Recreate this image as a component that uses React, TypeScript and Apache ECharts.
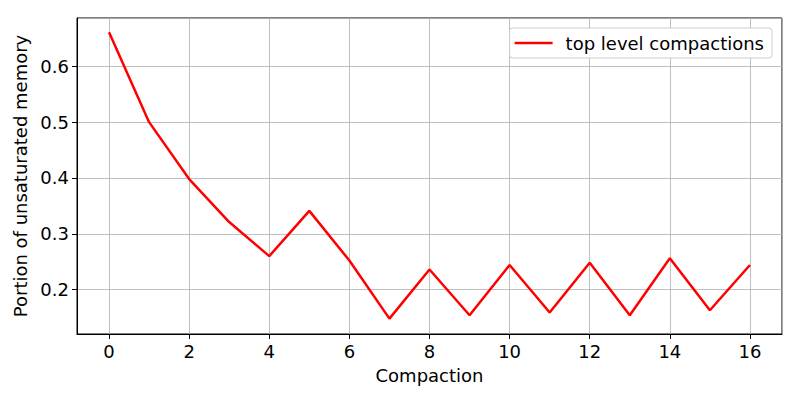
import React, { useEffect, useRef } from "react";
import * as echarts from "echarts";

const compactions = [0, 1, 2, 3, 4, 5, 6, 7, 8, 9, 10, 11, 12, 13, 14, 15, 16];
const portion = [0.661, 0.5, 0.398, 0.321, 0.26, 0.341, 0.252, 0.148, 0.236, 0.154, 0.244, 0.159, 0.248, 0.154, 0.256, 0.163, 0.244];
const seriesName = "top level compactions";

export default function App() {
  const ref = useRef<HTMLDivElement>(null);
  useEffect(() => {
    if (!ref.current) return;
    const chart = echarts.init(ref.current, null, { renderer: "svg" });
    const font = "DejaVu Sans";
    const fs = 18;
    chart.setOption({
      animation: false,
      textStyle: { fontFamily: font },
      grid: { left: 77, right: 18, top: 18, bottom: 66, show: true, borderColor: "#000", borderWidth: 1, backgroundColor: "transparent" },
      legend: {
        top: 28,
        right: 28,
        data: [seriesName],
        itemWidth: 38,
        itemHeight: 2.5,
        itemGap: 10,
        padding: [6, 8, 6, 5],
        borderColor: "#cccccc",
        borderWidth: 1,
        borderRadius: 3,
        backgroundColor: "#fff",
        textStyle: { fontFamily: font, fontSize: fs, color: "#000", padding: [0, 0, 0, 8] },
        icon: "rect",
      },
      xAxis: {
        type: "value",
        min: -0.8,
        max: 16.8,
        splitNumber: 8,
        name: "Compaction",
        nameLocation: "middle",
        nameGap: 32,
        nameTextStyle: { fontFamily: font, fontSize: fs, color: "#000" },
        axisLine: { show: true, onZero: false, lineStyle: { color: "#000", width: 1 } },
        axisTick: { show: true, length: 5, lineStyle: { color: "#000" } },
        axisLabel: { fontFamily: font, fontSize: fs, color: "#000", margin: 8, showMinLabel: false, showMaxLabel: false },
        splitLine: { show: true, lineStyle: { color: "#b0b0b0", width: 0.8 } },
      },
      yAxis: {
        type: "value",
        min: 0.1204,
        max: 0.6866,
        splitNumber: 5,
        name: "Portion of unsaturated memory",
        nameLocation: "middle",
        nameGap: 45,
        nameTextStyle: { fontFamily: font, fontSize: fs, color: "#000" },
        axisLine: { show: true, onZero: false, lineStyle: { color: "#000", width: 1 } },
        axisTick: { show: true, length: 5, lineStyle: { color: "#000" } },
        axisLabel: { fontFamily: font, fontSize: fs, color: "#000", margin: 8, showMinLabel: false, showMaxLabel: false, formatter: (v: number) => v.toFixed(1) },
        splitLine: { show: true, lineStyle: { color: "#b0b0b0", width: 0.8 } },
      },
      series: [
        {
          name: seriesName,
          type: "line",
          data: compactions.map((c, i) => [c, portion[i]]),
          showSymbol: false,
          symbol: "none",
          lineStyle: { color: "#ff0000", width: 2.5 },
          itemStyle: { color: "#ff0000" },
        },
      ],
    });
    return () => chart.dispose();
  }, []);
  return <div ref={ref} style={{ width: 800, height: 400, position: "absolute", left: 0, top: 0 }} />;
}
